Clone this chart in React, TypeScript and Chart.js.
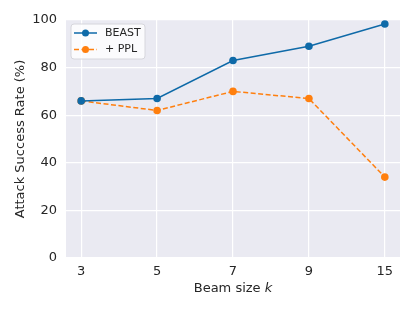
import React, { useEffect, useRef } from "react";
import { Chart, registerables } from "chart.js";

Chart.register(...registerables);

const categories = ["3", "5", "7", "9", "15"];
const beastValues = [66, 67, 83, 89, 98.3];
const pplValues = [66, 62, 70, 67, 34];
const yTicks = [0, 20, 40, 60, 80, 100];
const seriesLabels = ["BEAST", "+ PPL"];
const yTitle = "Attack Success Rate (%)";
const xTitleMain = "Beam size ";
const xTitleVar = "k";

const BLUE = "#0f6aa8";
const ORANGE = "#ff7f0e";
const TEXT = "#262626";
const FONT = "'DejaVu Sans', sans-serif";

const decorPlugin = {
  id: "decor",
  beforeDraw(chart: any) {
    const { ctx, chartArea: a } = chart;
    ctx.save();
    ctx.fillStyle = "#ffffff";
    ctx.fillRect(0, 0, chart.width, chart.height);
    ctx.fillStyle = "#eaeaf2";
    ctx.fillRect(a.left, a.top, a.right - a.left, a.bottom - a.top);
    ctx.restore();
  },
  afterDraw(chart: any) {
    const { ctx, chartArea: a } = chart;
    ctx.save();
    ctx.fillStyle = TEXT;
    ctx.font = `13px ${FONT}`;
    ctx.textAlign = "center";
    ctx.textBaseline = "middle";
    ctx.translate(21, (a.top + a.bottom) / 2);
    ctx.rotate(-Math.PI / 2);
    ctx.fillText(yTitle, 0, 0);
    ctx.restore();

    ctx.save();
    ctx.fillStyle = TEXT;
    ctx.textBaseline = "middle";
    ctx.font = `13px ${FONT}`;
    const w1 = ctx.measureText(xTitleMain).width;
    ctx.font = `italic 13px ${FONT}`;
    const w2 = ctx.measureText(xTitleVar).width;
    const cx = (a.left + a.right) / 2;
    const x0 = cx - (w1 + w2) / 2;
    ctx.textAlign = "left";
    ctx.font = `13px ${FONT}`;
    ctx.fillText(xTitleMain, x0, 289);
    ctx.font = `italic 13px ${FONT}`;
    ctx.fillText(xTitleVar, x0 + w1, 289);
    ctx.restore();

    ctx.save();
    const bx = a.left + 5, by = a.top + 4, bw = 74, bh = 35;
    const r = 3;
    ctx.beginPath();
    ctx.moveTo(bx + r, by);
    ctx.lineTo(bx + bw - r, by);
    ctx.quadraticCurveTo(bx + bw, by, bx + bw, by + r);
    ctx.lineTo(bx + bw, by + bh - r);
    ctx.quadraticCurveTo(bx + bw, by + bh, bx + bw - r, by + bh);
    ctx.lineTo(bx + r, by + bh);
    ctx.quadraticCurveTo(bx, by + bh, bx, by + bh - r);
    ctx.lineTo(bx, by + r);
    ctx.quadraticCurveTo(bx, by, bx + r, by);
    ctx.closePath();
    ctx.fillStyle = "rgba(255,255,255,0.8)";
    ctx.fill();
    ctx.strokeStyle = "#d6d6dc";
    ctx.lineWidth = 1;
    ctx.stroke();
    const ds = chart.data.datasets;
    ds.forEach((d: any, i: number) => {
      const yy = by + 9 + i * 16.5;
      ctx.strokeStyle = d.borderColor;
      ctx.lineWidth = 1.5;
      ctx.setLineDash(d.borderDash || []);
      ctx.beginPath();
      ctx.moveTo(bx + 3, yy);
      ctx.lineTo(bx + 26, yy);
      ctx.stroke();
      ctx.setLineDash([]);
      ctx.fillStyle = d.borderColor;
      ctx.beginPath();
      ctx.arc(bx + 14.5, yy, 3.5, 0, Math.PI * 2);
      ctx.fill();
      ctx.fillStyle = TEXT;
      ctx.font = `11px ${FONT}`;
      ctx.textAlign = "left";
      ctx.textBaseline = "middle";
      ctx.fillText(d.label, bx + 34, yy);
    });
    ctx.restore();
  },
};

export default function App() {
  const ref = useRef<HTMLCanvasElement>(null);
  useEffect(() => {
    document.body.style.margin = "0";
    const toPts = (vals: number[]) => vals.map((v, i) => ({ x: i, y: v }));
    const chart = new Chart(ref.current!, {
      type: "line",
      data: {
        datasets: [
          {
            label: seriesLabels[0],
            data: toPts(beastValues),
            borderColor: BLUE,
            backgroundColor: BLUE,
            borderWidth: 1.5,
            pointRadius: 3.8,
            pointBorderWidth: 0,
            pointBackgroundColor: BLUE,
          },
          {
            label: seriesLabels[1],
            data: toPts(pplValues),
            borderColor: ORANGE,
            backgroundColor: ORANGE,
            borderWidth: 1.5,
            borderDash: [5, 2.5],
            pointRadius: 3.8,
            pointBorderWidth: 0,
            pointBackgroundColor: ORANGE,
          },
        ],
      },
      options: {
        animation: false,
        responsive: false,
        layout: { padding: { top: 20, right: 15, left: 0, bottom: 0 } },
        plugins: { legend: { display: false }, tooltip: { enabled: false } },
        scales: {
          x: {
            type: "linear",
            min: -0.2,
            max: 4.2,
            afterBuildTicks: (s: any) => {
              s.ticks = categories.map((_, i) => ({ value: i }));
            },
            afterFit: (s: any) => {
              s.height = 53;
            },
            grid: { color: "#ffffff", lineWidth: 1.2, drawTicks: false },
            border: { display: false },
            ticks: {
              color: TEXT,
              font: { size: 13, family: FONT },
              padding: 6,
              maxRotation: 0,
              autoSkip: false,
              callback: (v: any) => categories[v] ?? "",
            },
          },
          y: {
            min: 0,
            max: 100,
            afterBuildTicks: (s: any) => {
              s.ticks = yTicks.map((v) => ({ value: v }));
            },
            afterFit: (s: any) => {
              s.width = 66;
            },
            grid: { color: "#ffffff", lineWidth: 1.2, drawTicks: false },
            border: { display: false },
            ticks: {
              color: TEXT,
              font: { size: 13, family: FONT },
              padding: 9,
            },
          },
        },
      },
      plugins: [decorPlugin],
    });
    return () => chart.destroy();
  }, []);
  return (
    <div style={{ position: "fixed", left: 0, top: 0, width: 415, height: 311 }}>
      <canvas ref={ref} width={415} height={311} style={{ width: 415, height: 311 }} />
    </div>
  );
}
